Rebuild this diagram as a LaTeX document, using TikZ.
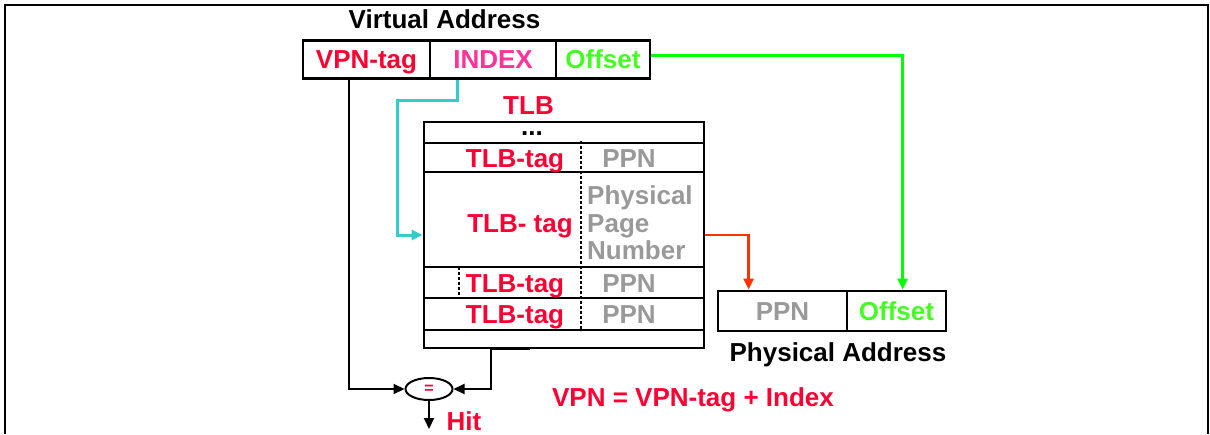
\documentclass[tikz,border=0pt]{standalone}
\usepackage{fontspec}
\setmainfont{Liberation Sans}
\usetikzlibrary{arrows.meta,calc,shapes.geometric}
\definecolor{tagred}{HTML}{FF0033}
\definecolor{idxpink}{HTML}{FF3399}
\definecolor{offgreen}{HTML}{44FF22}
\definecolor{linegreen}{HTML}{00FF00}
\definecolor{ppngray}{HTML}{999999}
\definecolor{cyanline}{HTML}{33CCCC}
\definecolor{orangered}{HTML}{FF3300}
\tikzset{
  txt/.style={font=\fontsize{26}{30}\selectfont\bfseries, inner sep=0pt, text height=18.5pt, text depth=0pt},
  cell/.style={txt, draw=black, line width=2.8pt, minimum height=38pt, inner sep=0pt},
  arr/.style={line width=2pt, -{Triangle[length=11pt,width=10pt]}},
  rowline/.style={line width=2.8pt},
  dotline/.style={line width=2.5pt, dash pattern=on 2.5pt off 2.5pt},
}
\begin{document}
\begin{tikzpicture}[x=1pt,y=-1pt]
\useasboundingbox (0,0) rectangle (1210,434);
% frame
\draw[line width=2.5pt] (5,434) -- (5,5) -- (1208,5) -- (1208,434);

% Virtual address
\node[txt] (vatitle) at (444.5,19) {Virtual Address};
\node[cell, minimum width=127pt, text=tagred] (vtag) at (366.5,59.5) {VPN-tag};
\node[cell, minimum width=126pt, text=idxpink] (idx) at (493,59.5) {INDEX};
\node[cell, minimum width=94pt, text=offgreen] (voff) at (603,59.5) {Offset};

% TLB
\node[txt, text=tagred] (tlbtitle) at (528.5,105.5) {TLB};
\node[draw=black, line width=2.8pt, minimum width=280pt, minimum height=226pt, inner sep=0pt] (tlb) at (564,235) {};
\draw[rowline] (424,143) -- (704,143);
\draw[rowline] (424,172) -- (704,172);
\draw[rowline] (424,267) -- (704,267);
\draw[rowline] (424,298) -- (704,298);
\draw[rowline] (424,330) -- (704,330);
\draw[line width=1.5pt] (492,349.5) -- (530,349.5);
\draw[dotline] (581,141) -- (581,331);
\draw[dotline] (459,267) -- (459,298);
\node[font=\fontsize{26}{30}\selectfont\bfseries, inner sep=0pt, text height=4pt, text depth=0pt] (dots) at (532,133) {...};
\node[txt, text=tagred] (t1) at (515,158) {TLB-tag};
\node[txt, text=ppngray] (p1) at (629,158) {PPN};
\node[txt, text=tagred] (t2) at (520,223.5) {TLB- tag};
\node[txt, text=ppngray, anchor=west] (p2a) at (587,195.5) {Physical};
\node[txt, text=ppngray, anchor=west] (p2b) at (587,223) {Page};
\node[txt, text=ppngray, anchor=west] (p2c) at (587,250) {Number};
\node[txt, text=tagred] (t3) at (515,283.5) {TLB-tag};
\node[txt, text=ppngray] (p3) at (629,283.5) {PPN};
\node[txt, text=tagred] (t4) at (515,314) {TLB-tag};
\node[txt, text=ppngray] (p4) at (629,314) {PPN};

% Physical address
\node[cell, minimum width=129pt, minimum height=40pt, text=ppngray] (pppn) at (782.5,311) {PPN};
\node[cell, minimum width=99pt, minimum height=40pt, text=offgreen] (poff) at (896.5,311) {Offset};
\node[txt] (patitle) at (838,352.5) {Physical Address};

% comparator
\node[draw=black, line width=2pt, ellipse, minimum width=47pt, minimum height=22pt, inner sep=0pt, text=tagred, font=\fontsize{16}{16}\selectfont\bfseries] (eq) at (429,389) {=};
\node[txt, text=tagred] (hit) at (464,421) {Hit};
\coordinate (hitend) at (429,429);
\node[txt, text=tagred] (formula) at (693,397.5) {VPN = VPN-tag + Index};

% connectors
\draw[arr] ($(vtag.south west)+(47,0)$) |- (eq.west);
\draw[arr] ($(tlb.south west)+(68,0)$) |- (eq.east);
\draw[arr] (eq.south) -- (hitend);
\coordinate (cbend) at (397,100);
\draw[arr, color=cyanline, line width=3pt] ($(idx.south west)+(29,0)$) |- (cbend) |- (tlb.west);
\draw[arr, color=orangered, line width=2.5pt] (tlb.east) -| ($(pppn.north west)+(32,0)$);
\draw[arr, color=linegreen, line width=3pt] ($(voff.east)+(0,-4)$) -| ($(poff.north west)+(57,0)$);
\end{tikzpicture}
\end{document}
